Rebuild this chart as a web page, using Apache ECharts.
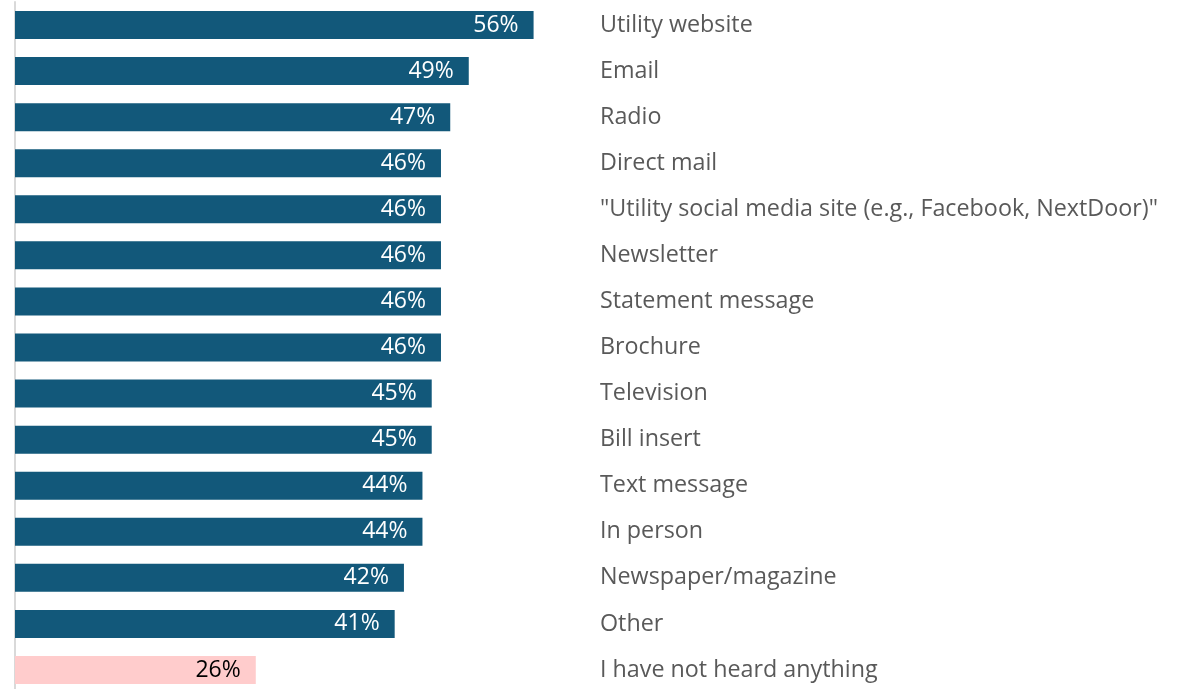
<!DOCTYPE html>
<html>
<head>
<meta charset="utf-8">
<style>
  html, body { margin: 0; padding: 0; background: #ffffff; }
  #chart { width: 1183px; height: 689px; }
</style>
<script src="https://cdn.jsdelivr.net/npm/echarts@6/dist/echarts.min.js"></script>
</head>
<body>
<div id="chart"></div>
<script>
// Channels, listed top to bottom
const categories = [
  'Utility website',
  'Email',
  'Radio',
  'Direct mail',
  '"Utility social media site (e.g., Facebook, NextDoor)"',
  'Newsletter',
  'Statement message',
  'Brochure',
  'Television',
  'Bill insert',
  'Text message',
  'In person',
  'Newspaper/magazine',
  'Other',
  'I have not heard anything'
];

// Share of respondents (%)
const values = [56, 49, 47, 46, 46, 46, 46, 46, 45, 45, 44, 44, 42, 41, 26];

const barColor = '#12587A';
const noneColor = '#FFCCCC';

const seriesData = values.map((v, i) => {
  const isNone = i === values.length - 1;
  return {
    value: v,
    itemStyle: { color: isNone ? noneColor : barColor },
    label: { color: isNone ? '#000000' : '#ffffff' }
  };
});

const chart = echarts.init(document.getElementById('chart'), null, { renderer: 'canvas' });

const fontFamily = '"Open Sans", "Noto Sans", sans-serif';

chart.setOption({
  animation: false,
  grid: { left: 15, top: 2, right: 592, bottom: -4, outerBoundsMode: 'none', containLabel: false },
  xAxis: {
    type: 'value',
    min: 0,
    max: 62.2,
    show: false
  },
  yAxis: [
    {
      type: 'category',
      data: categories,
      inverse: true,
      position: 'left',
      axisLine: { show: true, lineStyle: { color: '#D9D9D9', width: 2 } },
      axisTick: { show: false },
      axisLabel: { show: false }
    },
    {
      type: 'category',
      data: categories,
      inverse: true,
      position: 'right',
      axisLine: { show: false },
      axisTick: { show: false },
      axisLabel: {
        show: true,
        margin: 9,
        align: 'left',
        color: '#595959',
        fontSize: 23.3,
        fontFamily: fontFamily
      }
    }
  ],
  series: [{
    type: 'bar',
    yAxisIndex: 0,
    data: seriesData,
    barWidth: 28,
    label: {
      show: true,
      position: 'insideRight',
      distance: 15,
      formatter: p => p.value + '%',
      fontSize: 23,
      fontFamily: fontFamily
    }
  }]
});
</script>
</body>
</html>
